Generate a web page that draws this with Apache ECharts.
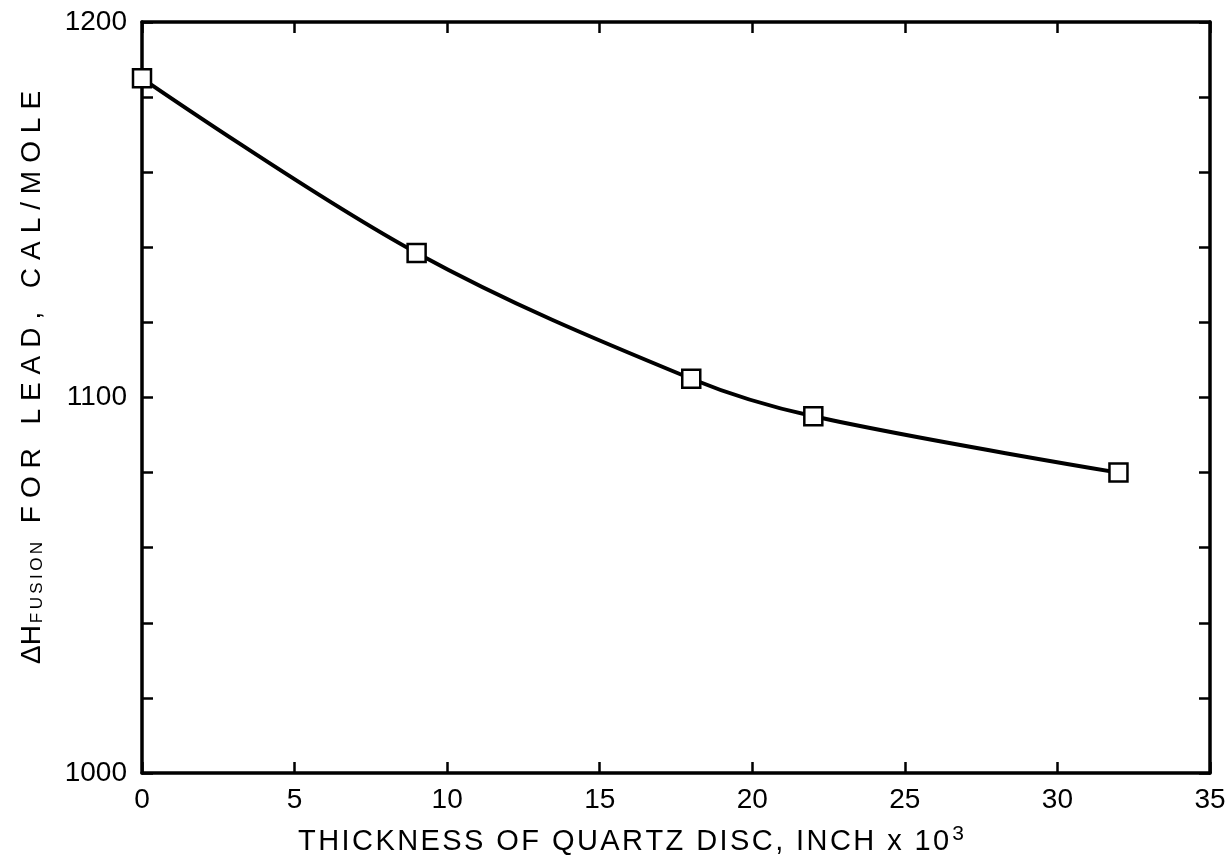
<!DOCTYPE html>
<html>
<head>
  <meta charset="UTF-8">
  <title>Heat of fusion vs quartz disc thickness</title>
  <style>
    body { margin: 0; padding: 0; background: #fff; }
    #chart { width: 1232px; height: 857px; }
  </style>
</head>
<body>
  <div id="chart"></div>
  <script src="https://cdn.jsdelivr.net/npm/echarts@6/dist/echarts.min.js"></script>
  <script>
    // thickness (inch x 10^3) and heat of fusion (cal/mole)
    var thickness = [0, 9, 18, 22, 32];
    var heatFusion = [1185, 1138.5, 1105, 1095, 1080];

    var xTicks = [0, 5, 10, 15, 20, 25, 30, 35];
    var yLabels = [1000, 1100, 1200];

    var chart = echarts.init(document.getElementById('chart'));
    var font = 'Liberation Sans';

    // old lettering-guide text is widely spaced, fake it with small spaces
    function spread(s, sp) {
      return s.split('').join(sp || '\u2009');
    }

    var tickStyle = { inside: true, length: 11, lineStyle: { color: '#000', width: 2.5 } };
    var frameLine = { show: true, onZero: false, lineStyle: { color: '#000', width: 3.5 } };

    var option = {
      backgroundColor: '#fff',
      animation: false,
      grid: { left: 142, right: 22, top: 22, bottom: 84, outerBoundsMode: 'none' },
      xAxis: [{
        type: 'value',
        min: xTicks[0],
        max: xTicks[xTicks.length - 1],
        interval: 5,
        axisLine: frameLine,
        axisTick: tickStyle,
        splitLine: { show: false },
        axisLabel: { color: '#000', fontSize: 28, fontFamily: font, margin: 13 },
        name: '{t|' + spread('THICKNESS OF QUARTZ DISC, INCH x 10', '\u200A') + '}{s|3}',
        nameLocation: 'middle',
        nameGap: 51,
        nameTextStyle: {
          padding: [0, 90, 0, 0],
          rich: {
            t: { fontSize: 29, fontFamily: font, color: '#000' },
            s: { fontSize: 21, fontFamily: font, color: '#000', verticalAlign: 'top', padding: [0, 0, 14, 3] }
          }
        }
      }, {
        type: 'value',
        position: 'top',
        min: xTicks[0],
        max: xTicks[xTicks.length - 1],
        interval: 5,
        axisLine: frameLine,
        axisTick: tickStyle,
        axisLabel: { show: false },
        splitLine: { show: false }
      }],
      yAxis: [{
        type: 'value',
        min: yLabels[0],
        max: yLabels[yLabels.length - 1],
        interval: 20,
        axisLine: frameLine,
        axisTick: tickStyle,
        splitLine: { show: false },
        axisLabel: {
          color: '#000', fontSize: 28, fontFamily: font, margin: 15,
          formatter: function (v) { return yLabels.indexOf(v) >= 0 ? String(v) : ''; }
        },
        name: '{t|ΔH}{s|' + spread('FUSION') + '}{t|' + spread(' FOR LEAD, CAL/MOLE', '\u2009\u200A') + '}',
        nameLocation: 'middle',
        nameRotate: 90,
        nameGap: 96,
        nameTextStyle: {
          padding: [0, 0, 0, 40],
          rich: {
            t: { fontSize: 28, fontFamily: font, color: '#000' },
            s: { fontSize: 17, fontFamily: font, color: '#000', verticalAlign: 'bottom', padding: [10, 3, 0, 2] }
          }
        }
      }, {
        type: 'value',
        position: 'right',
        min: yLabels[0],
        max: yLabels[yLabels.length - 1],
        interval: 20,
        axisLine: frameLine,
        axisTick: tickStyle,
        axisLabel: { show: false },
        splitLine: { show: false }
      }],
      series: [{
        type: 'line',
        smooth: 0.35,
        data: thickness.map(function (t, i) { return [t, heatFusion[i]]; }),
        lineStyle: { color: '#000', width: 4 },
        symbol: 'rect',
        symbolSize: 18,
        itemStyle: { color: '#fff', borderColor: '#000', borderWidth: 2.5 },
        z: 5
      }]
    };

    chart.setOption(option);
  </script>
</body>
</html>
